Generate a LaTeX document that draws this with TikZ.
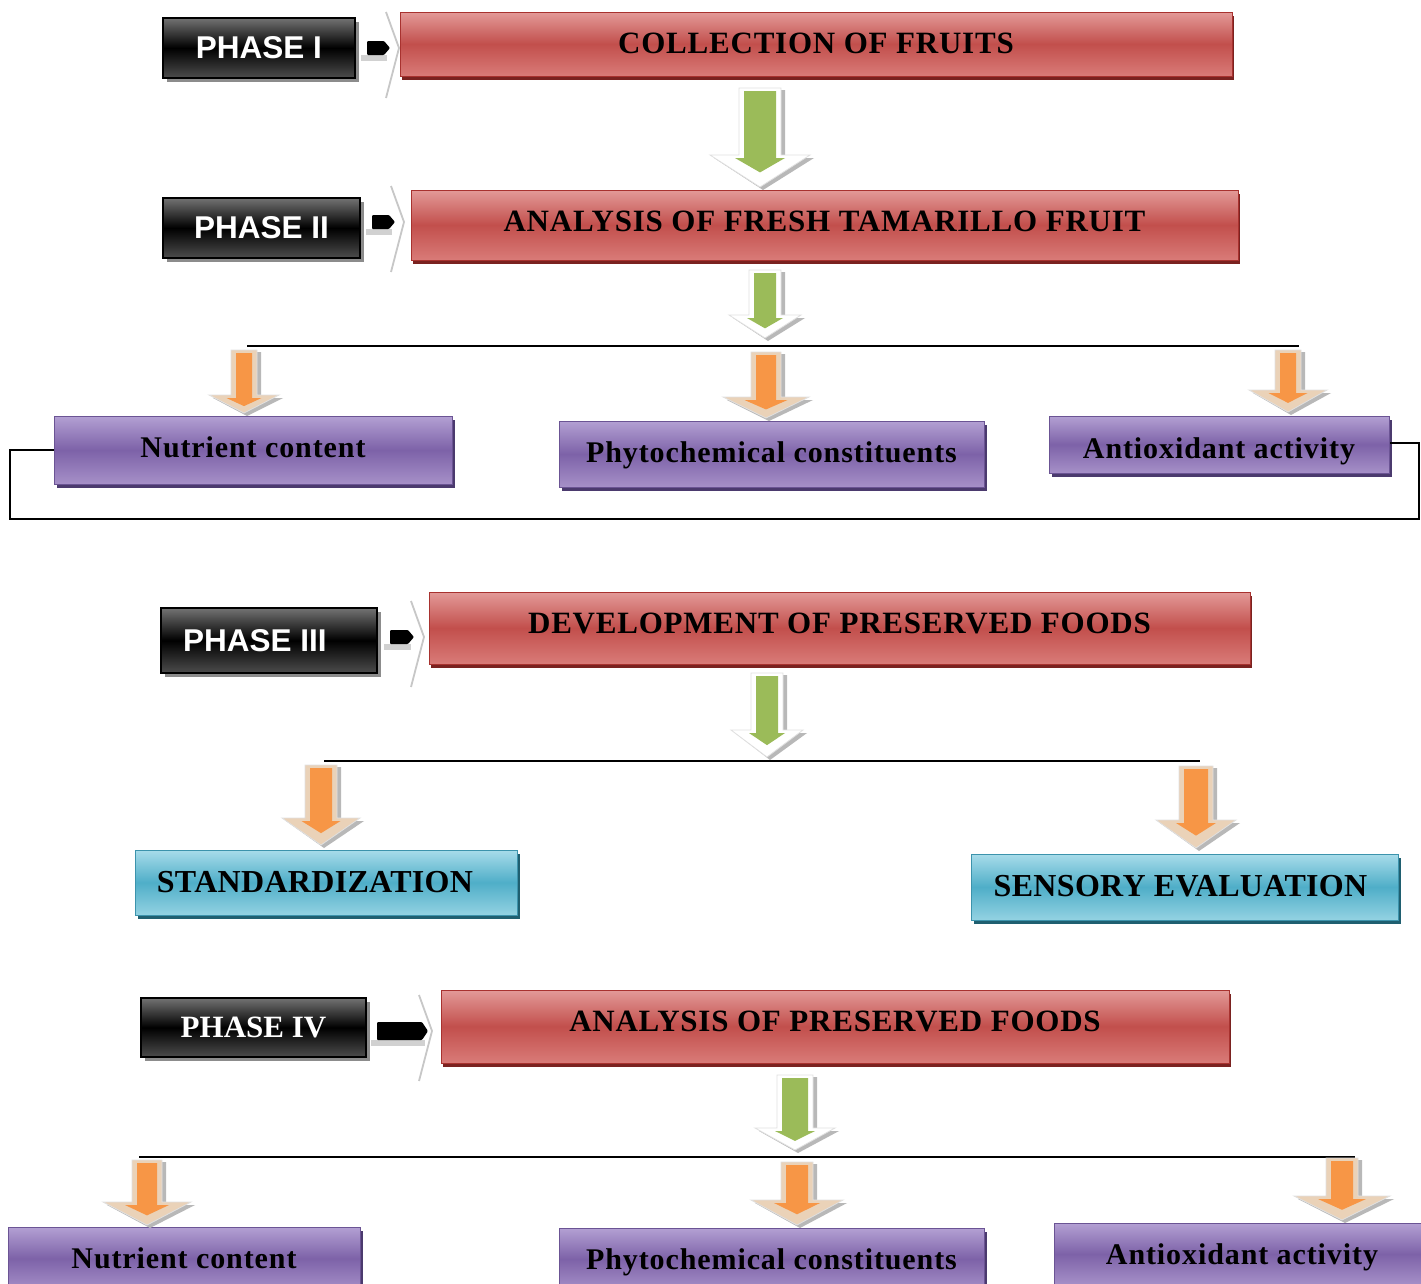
\documentclass[tikz,border=0pt]{standalone}
\usepackage{fontspec}
\setmainfont{Liberation Serif}
\newfontfamily\arialf{Liberation Sans}
\newfontfamily\redfnt[LetterSpace=2.5]{Liberation Serif}
\newfontfamily\purfnt[LetterSpace=3]{Liberation Serif}
\newfontfamily\cynfnt[LetterSpace=1]{Liberation Serif}
\usetikzlibrary{shadows}
\definecolor{redtop}{HTML}{E39A98}
\definecolor{redmid}{HTML}{C24F4C}
\definecolor{redbot}{HTML}{D97B78}
\definecolor{redline}{HTML}{A8322F}
\definecolor{redshadow}{HTML}{7A2220}
\definecolor{purtop}{HTML}{B3A0D3}
\definecolor{purmid}{HTML}{7D62A8}
\definecolor{purbot}{HTML}{A690C8}
\definecolor{purline}{HTML}{6B5494}
\definecolor{purshadow}{HTML}{4B3A6E}
\definecolor{cyntop}{HTML}{A8DCEA}
\definecolor{cynmid}{HTML}{4FAEC8}
\definecolor{cynbot}{HTML}{93D2E2}
\definecolor{cynline}{HTML}{3C93AC}
\definecolor{cynshadow}{HTML}{1F5F70}
\definecolor{greenarr}{HTML}{9BBB59}
\definecolor{orangearr}{HTML}{F79646}
\definecolor{tanhead}{HTML}{EAD2B8}
\newcommand\vdarrow[8]{%
  \fill[black!28] ({#1-#5+4},{#2+2}) -- ({#1+#5+4},{#2+2}) -- ({#1+#5+4},{#3+3}) -- ({#1+#6+4},{#3+3}) -- ({#1+3},{#4+3}) -- ({#1-#6+4},{#3+3}) -- ({#1-#5+4},{#3+3}) -- cycle;
  \filldraw[fill=#8, draw=black!12, line width=0.8pt] ({#1-#5},#2) -- ({#1+#5},#2) -- ({#1+#5},#3) -- ({#1+#6},#3) -- (#1,#4) -- ({#1-#6},#3) -- ({#1-#5},#3) -- cycle;
  \fill[#7] ({#1-#5+5},{#2+3}) -- ({#1+#5-5},{#2+3}) -- ({#1+#5-5},{#3+3}) -- ({#1+0.5*#6},{#3+3}) -- (#1,{#3+3+0.45*(#4-#3)}) -- ({#1-0.5*#6},{#3+3}) -- ({#1-#5+5},{#3+3}) -- cycle;
}
\newcommand\sidearr[5]{%
  \fill[black!18] ({#1-6},{#3+#5}) rectangle ({#2-3},{#3+#5+6});
  \draw[black!22, line width=1.8pt, line join=round] (#4,{#3-36}) -- ({#4+13},#3) -- (#4,{#3+50});
  \fill[black, rounded corners=1pt] (#1,{#3-#5}) -- ({#2-6},{#3-#5}) -- (#2,#3) -- ({#2-6},{#3+#5}) -- (#1,{#3+#5}) -- cycle;
}
\newcommand\tup[2]{\raisebox{#1}{#2}}
\tikzset{
  redbox/.style={draw=redline, line width=1pt, top color=redtop, bottom color=redbot, middle color=redmid,
    drop shadow={shadow xshift=2pt, shadow yshift=-4pt, fill=redshadow, opacity=1},
    inner sep=0pt, text height=26pt, text depth=5pt, font=\redfnt\bfseries\fontsize{31}{36}\selectfont, text=black},
  phasebox/.style={draw=black, line width=1.2pt, top color=black!55, bottom color=black!70, middle color=black,
    drop shadow={shadow xshift=4pt, shadow yshift=-4pt, fill=black!45, opacity=1},
    inner sep=0pt, text=white, font=\arialf\bfseries\fontsize{31.5}{38}\selectfont},
  purbox/.style={draw=purline, line width=1pt, top color=purtop, bottom color=purbot, middle color=purmid,
    drop shadow={shadow xshift=3pt, shadow yshift=-4pt, fill=purshadow, opacity=1},
    inner sep=0pt, text height=25pt, text depth=5pt, font=\purfnt\bfseries\fontsize{30}{36}\selectfont, text=black},
  cynbox/.style={draw=cynline, line width=1pt, top color=cyntop, bottom color=cynbot, middle color=cynmid,
    drop shadow={shadow xshift=3pt, shadow yshift=-4pt, fill=cynshadow, opacity=1},
    inner sep=0pt, text height=26pt, text depth=5pt, font=\cynfnt\bfseries\fontsize{32}{36}\selectfont, text=black},
  link/.style={draw=black, line width=1.6pt},
}
\begin{document}
\begin{tikzpicture}[x=1pt,y=-1pt]
\useasboundingbox[fill=white] (0,0) rectangle (1421,1283);
% side arrows
\sidearr{367}{390}{48}{386}{7}
\sidearr{372}{395}{222}{391}{7}
\sidearr{390}{414}{637}{411}{7}
\sidearr{377}{428}{1031}{419}{9}
% phase boxes
\node[phasebox, minimum width=192pt, minimum height=60pt] (p1) at (259,48) {PHASE I};
\node[phasebox, minimum width=197pt, minimum height=60pt] (p2) at (261.5,228) {PHASE II};
\node[phasebox, minimum width=216pt, minimum height=65pt] (p3) at (269,640.5) {\hspace*{-28pt}PHASE III};
\node[phasebox, minimum width=225pt, minimum height=59pt, font=\bfseries\fontsize{31}{36}\selectfont] (p4) at (253.5,1027.5) {PHASE IV};
% red boxes
\node[redbox, minimum width=832pt, minimum height=64pt] (r1) at (816,44) {\tup{1pt}{COLLECTION OF FRUITS}};
\node[redbox, minimum width=827pt, minimum height=70pt] (r2) at (824.5,225) {\tup{4pt}{ANALYSIS OF FRESH TAMARILLO FRUIT}};
\node[redbox, minimum width=821pt, minimum height=72pt] (r3) at (839.5,628) {\tup{5pt}{DEVELOPMENT OF PRESERVED FOODS}};
\node[redbox, minimum width=788pt, minimum height=73pt] (r4) at (835,1026.5) {\tup{6pt}{ANALYSIS OF PRESERVED FOODS}};
% purple boxes
\node[purbox, minimum width=398pt, minimum height=68pt] (n1) at (253,450) {\tup{3pt}{Nutrient content}};
\node[purbox, minimum width=425pt, minimum height=66pt] (ph1) at (771.5,454) {\tup{2pt}{Phytochemical constituents}};
\node[purbox, minimum width=340pt, minimum height=57pt] (a1) at (1219,444.5) {\tup{-3.5pt}{Antioxidant activity}};
\node[purbox, minimum width=352pt, minimum height=63pt] (n2) at (184,1258.5) {\tup{0pt}{Nutrient content}};
\node[purbox, minimum width=425pt, minimum height=62pt] (ph2) at (771.5,1259) {\tup{0pt}{Phytochemical constituents}};
\node[purbox, minimum width=376pt, minimum height=62pt] (a2) at (1242,1254) {\tup{0pt}{Antioxidant activity}};
% cyan boxes
\node[cynbox, minimum width=382pt, minimum height=65pt] (st) at (326,882.5) {\hspace*{-22pt}\tup{1pt}{STANDARDIZATION}};
\node[cynbox, minimum width=427pt, minimum height=66pt] (se) at (1184.5,887) {\hspace*{-8pt}\tup{1pt}{SENSORY EVALUATION}};
% branch lines
\coordinate (h1l) at (247,346); \coordinate (h1r) at (1299,346);
\coordinate (h2l) at (324,761); \coordinate (h2r) at (1200,761);
\coordinate (h3l) at (139,1157); \coordinate (h3r) at (1355,1157);
\draw[link] (h1l) -- (h1r);
\draw[link] (h2l) -- (h2r);
\draw[link] (h3l) -- (h3r);
% bracket
\coordinate (bl) at (10,519); \coordinate (br) at (1419,519);
\draw[link, line width=1.3pt] (n1.west) -- (n1.west -| bl) -- (bl) -- (br) -- (br |- 0,443) -- (a1.east |- 0,443);
% green arrows
\vdarrow{760}{88}{155}{187}{21}{50}{greenarr}{white}
\vdarrow{765}{270}{315}{338}{16}{36}{greenarr}{white}
\vdarrow{767}{673}{730}{757}{16}{36}{greenarr}{white}
\vdarrow{795}{1075}{1128}{1150}{18}{40}{greenarr}{white}
% orange arrows
\vdarrow{244}{350}{395}{413}{13}{35}{orangearr}{tanhead}
\vdarrow{766}{352}{397}{418}{15}{43}{orangearr}{tanhead}
\vdarrow{1288}{350}{390}{412}{13}{39}{orangearr}{tanhead}
\vdarrow{321}{765}{818}{845}{16}{39}{orangearr}{tanhead}
\vdarrow{1196}{766}{820}{848}{17}{40}{orangearr}{tanhead}
\vdarrow{147}{1160}{1202}{1225}{15}{44}{orangearr}{tanhead}
\vdarrow{797}{1162}{1200}{1225}{16}{46}{orangearr}{tanhead}
\vdarrow{1342}{1158}{1196}{1220}{16}{48}{orangearr}{tanhead}
\end{tikzpicture}
\end{document}
